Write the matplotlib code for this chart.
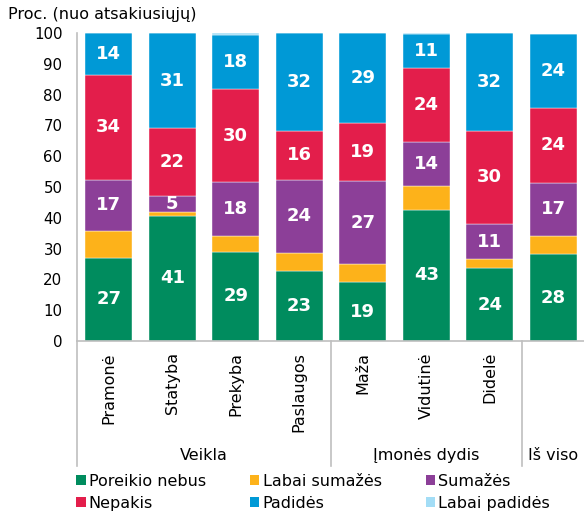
import matplotlib
matplotlib.use("Agg")
import matplotlib.pyplot as plt
from matplotlib.patches import Patch
import numpy as np

plt.rcParams['font.family'] = ['DejaVu Sans']

categories = ["Pramonė", "Statyba", "Prekyba", "Paslaugos", "Maža", "Vidutinė", "Didelė", ""]
groups = ["Veikla", "Įmonės dydis", "Iš viso"]
group_spans = [(0, 3), (4, 6), (7, 7)]

series_names = ["Poreikio nebus", "Labai sumažės", "Sumažės", "Nepakis", "Padidės", "Labai padidės"]
poreikio_nebus = [27.0, 40.7, 28.9, 22.6, 19.0, 42.6, 23.6, 28.2]
labai_sumazes  = [8.6, 1.1, 5.2, 6.1, 6.0, 7.8, 3.0, 5.8]
sumazes        = [16.8, 5.4, 17.6, 23.7, 26.8, 14.3, 11.4, 17.4]
nepakis        = [34.0, 21.9, 30.0, 15.9, 19.1, 24.0, 30.2, 24.4]
padides        = [13.6, 30.9, 17.6, 31.7, 29.1, 10.9, 31.8, 24.0]
labai_padides  = [0.0, 0.0, 0.7, 0.0, 0.0, 0.4, 0.0, 0.0]
series = [poreikio_nebus, labai_sumazes, sumazes, nepakis, padides, labai_padides]
show_labels = [True, False, True, True, True, False]
colors = ["#008C5E", "#FDB21A", "#8C3F98", "#E31E4B", "#0099D6", "#A3DDF6"]
yticks = [0, 10, 20, 30, 40, 50, 60, 70, 80, 90, 100]

W, H = 584, 511
fig = plt.figure(figsize=(W/100, H/100), dpi=100)
ax_left, ax_right, ax_top, ax_bot = 77, 585, 33, 341
ax = fig.add_axes([ax_left/W, 1-ax_bot/H, (ax_right-ax_left)/W, (ax_bot-ax_top)/H])

x = np.arange(len(categories))
bottom = np.zeros(len(categories))
bw = 47/63.5
for vals, col, lab, show in zip(series, colors, series_names, show_labels):
    vals = np.array(vals)
    ax.bar(x, vals, bw, bottom=bottom, color=col, edgecolor="white", linewidth=0.3, label=lab)
    if show:
        for xi, v, b in zip(x, vals, bottom):
            if v >= 4:
                ax.text(xi, b + v/2, f"{round(v):d}", ha="center", va="center",
                        color="white", fontsize=13, fontweight="bold")
    bottom += vals

ax.set_xlim(-0.5, len(categories)-0.5)
ax.set_ylim(0, 100)
ax.set_yticks(yticks)
ax.tick_params(axis='y', length=0, pad=10.5, labelsize=10.8)
ax.set_xticks(x)
ax.set_xticklabels(categories, rotation=90, va="top", ha="center")
ax.tick_params(axis='x', length=0, pad=8.0, labelsize=11.5)
for s in ["top", "right"]:
    ax.spines[s].set_visible(False)
for s in ["left", "bottom"]:
    ax.spines[s].set_color("#BFBFBF")
    ax.spines[s].set_linewidth(1.2)

# group separators and labels
trans = ax.get_xaxis_transform()
sep_y = (ax_bot - 466) / (ax_bot - ax_top)
lab_y = (ax_bot - 455) / (ax_bot - ax_top)
for (a, b), g in zip(group_spans, groups):
    ax.plot([a-0.5, a-0.5], [0, sep_y], transform=trans, color="#BFBFBF", lw=1.2, clip_on=False)
    ax.text((a+b)/2, lab_y, g, transform=trans, ha="center", va="center", fontsize=11.5)

fig.text(8/W, 1-14/H, "Proc. (nuo atsakiusiųjų)", ha="left", va="center", fontsize=11.5)

# legend, filled row-wise like the original (matplotlib fills columns first)
order = [0, 3, 1, 4, 2, 5]
handles = [Patch(facecolor=colors[i], edgecolor="none") for i in order]
labels = [series_names[i] for i in order]
fig.legend(handles, labels, ncol=3, loc="upper left",
           bbox_to_anchor=(76/W, 1-474/H), frameon=False, fontsize=11.5,
           handlelength=0.6, handleheight=0.6, handletextpad=0.2,
           columnspacing=2.75, labelspacing=0.42, borderaxespad=0, borderpad=0)

fig.savefig("out.png", dpi=100)
